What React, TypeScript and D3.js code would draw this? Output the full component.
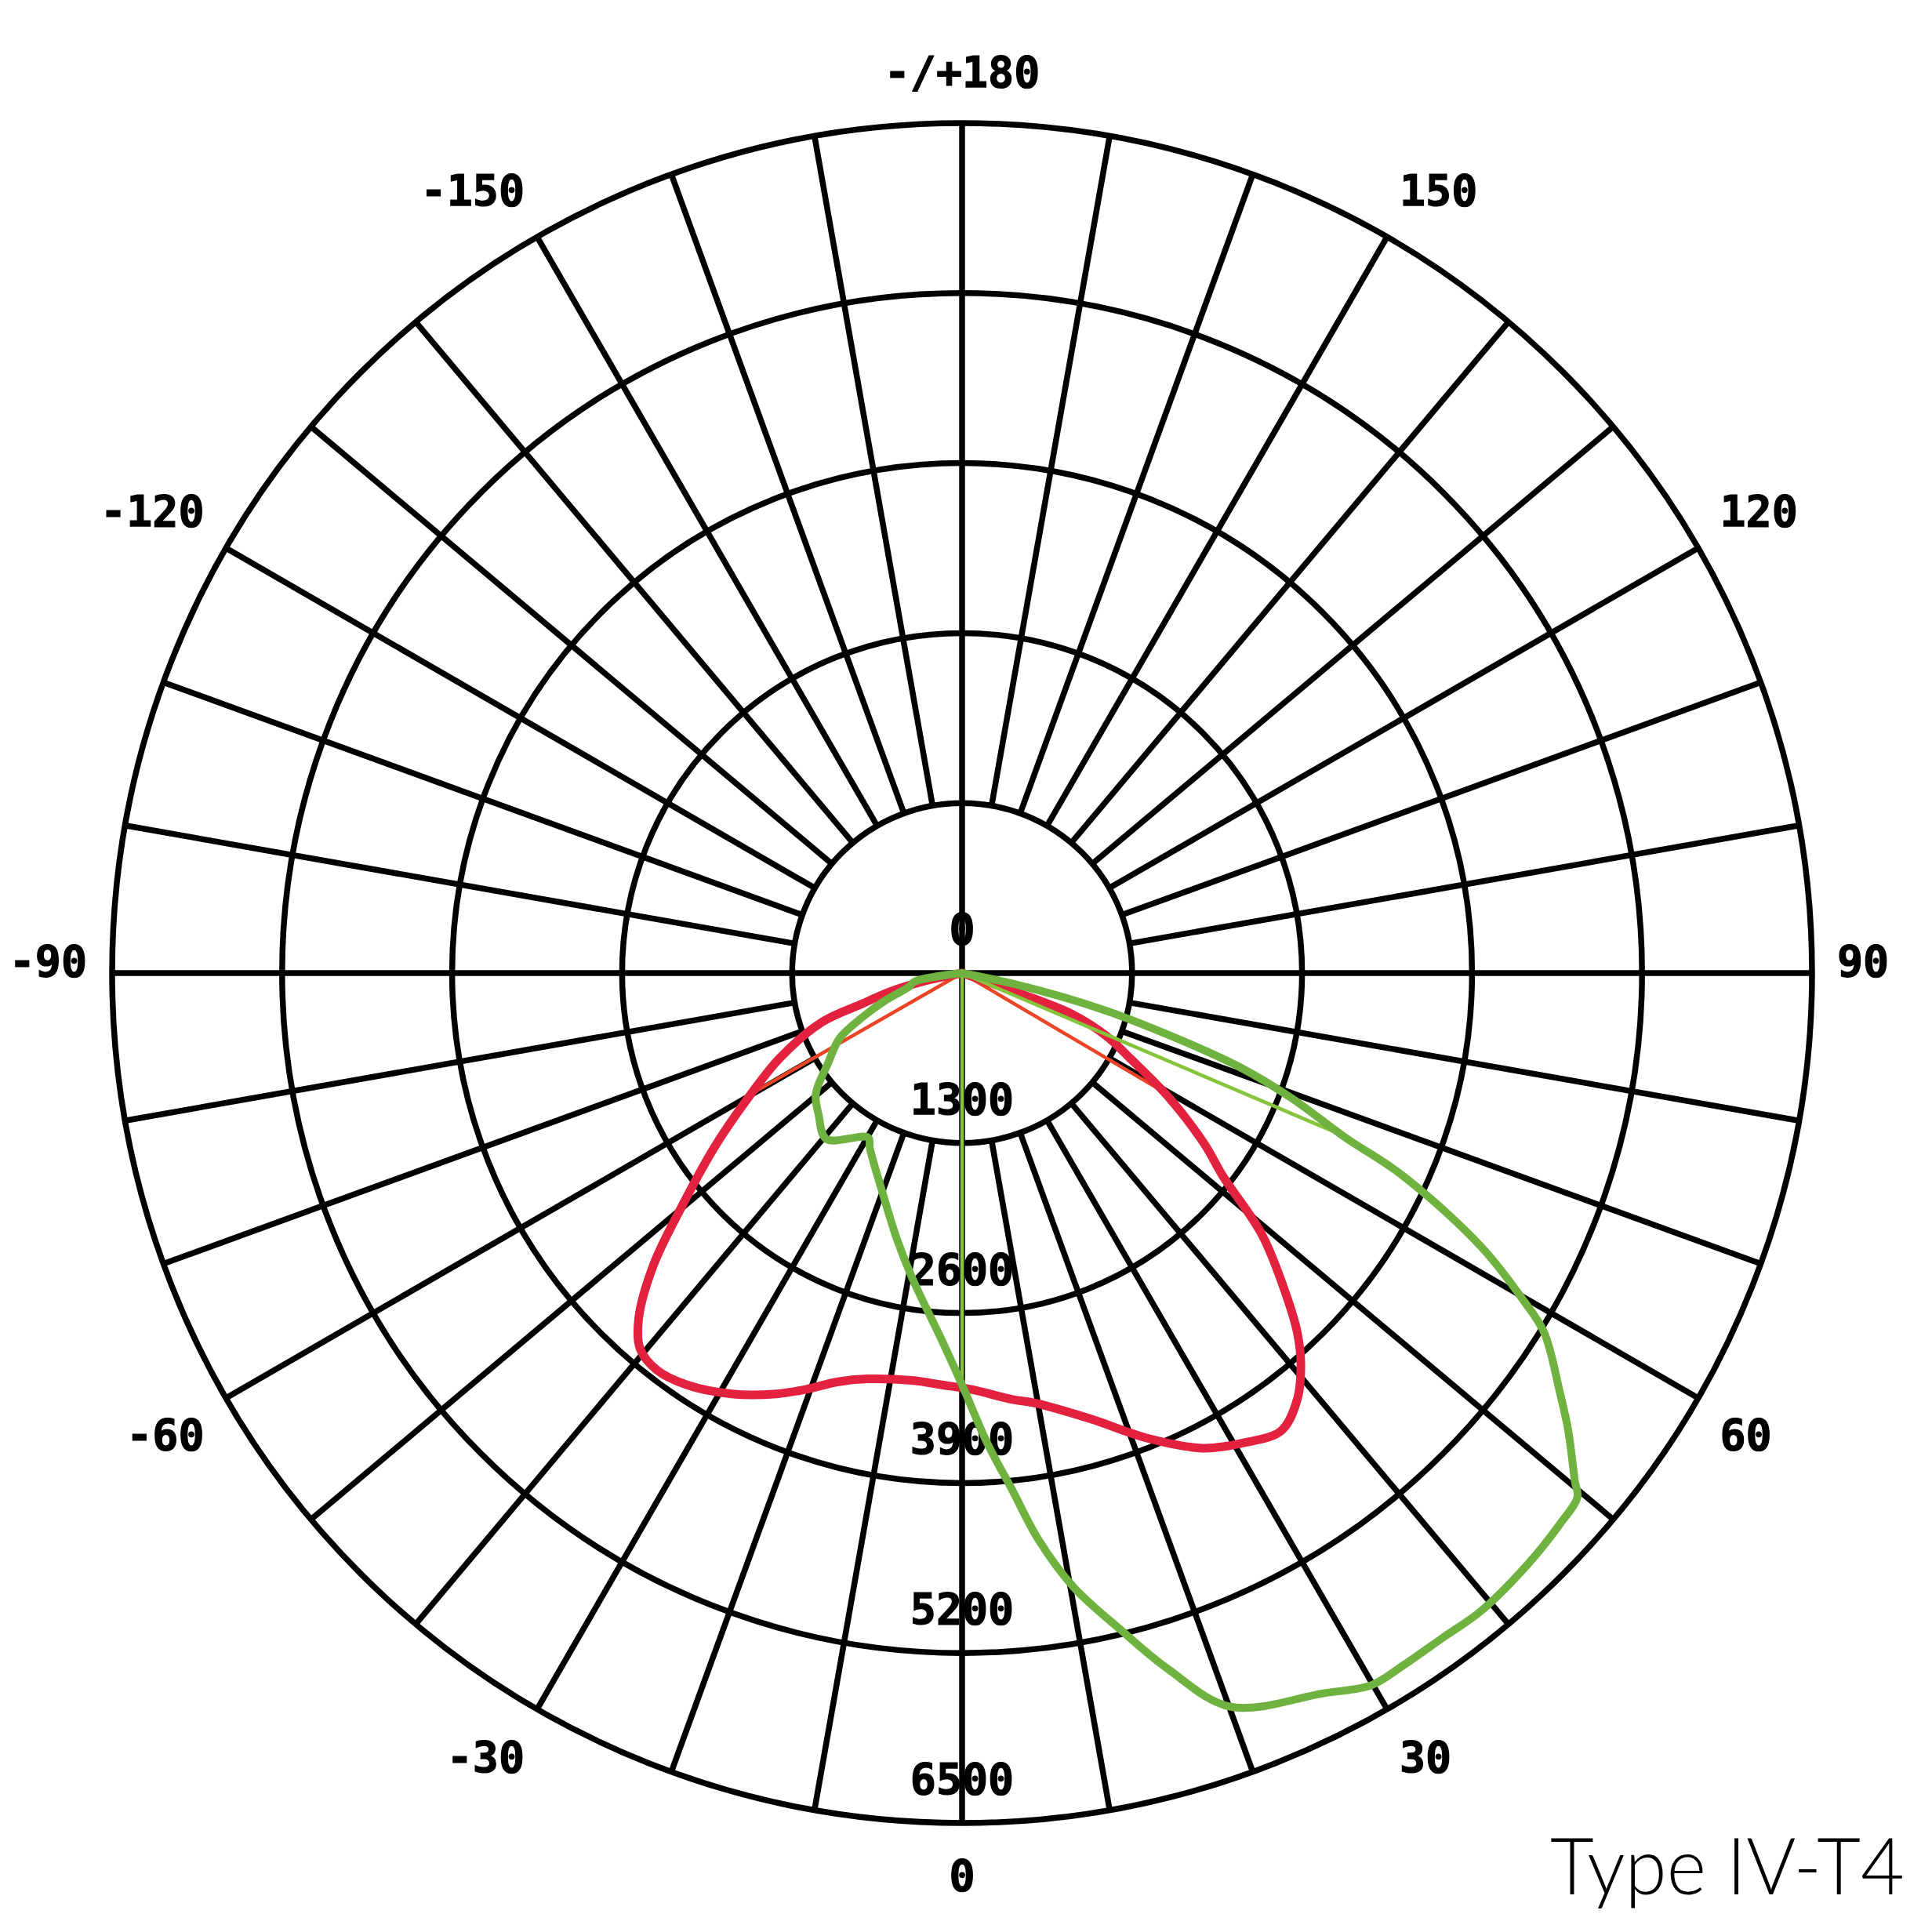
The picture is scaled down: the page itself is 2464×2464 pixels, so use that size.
import React from "react";
import * as d3 from "d3";

// ---- chart data ----
const ringValues = [1300, 2600, 3900, 5200, 6500];
const ringLabelValues = [0, 1300, 2600, 3900, 5200, 6500];
const ringLabelTexts = ["0", "1300", "2600", "3900", "5200", "6500"];
const spokeAngles = [-170, -160, -150, -140, -130, -120, -110, -100, -90, -80, -70, -60, -50, -40, -30, -20, -10, 0, 10, 20, 30, 40, 50, 60, 70, 80, 90, 100, 110, 120, 130, 140, 150, 160, 170, 180];
const angleLabelAngles = [-150, -120, -90, -60, -30, 0, 30, 60, 90, 120, 150, 180];
const angleLabelTexts = ["-150", "-120", "-90", "-60", "-30", "0", "30", "60", "90", "120", "150", "-/+180"];

// C0-C180 plane (red)
const redAngles = [-90, -78, -76, -74.7, -72.9, -70.7, -65, -59.5, -54.8, -50.1, -46.6, -43.1, -40.6, -37.6, -33.8, -28.7, -23.8, -20.5, -17, -13.2, -7, -2.8, 1.3, 6.6, 9.6, 16, 21.8, 26.9, 31.2, 34.9, 38.2, 40.9, 43, 45.3, 48.9, 52.1, 54.8, 58.9, 63, 66.5, 69.5, 70.6, 90];
const redValues = [0, 300, 520, 637, 797, 1136, 1538, 1912, 2323, 2802, 3247, 3620, 3784, 3829, 3788, 3669, 3517, 3398, 3270, 3188, 3139, 3153, 3185, 3281, 3335, 3545, 3833, 4074, 4195, 4267, 4146, 3957, 3759, 3481, 3044, 2527, 2268, 1853, 1450, 1200, 900, 462, 0];

// C90-C270 plane (green)
const greenAngles = [-90, -80, -75.5, -70, -66, -62, -55.9, -50.4, -45.3, -39.3, -29.7, -27.8, -20.3, -13.9, -9.4, -3.2, 0, 3, 5.5, 7.7, 10.3, 13.6, 16.5, 20.1, 26.7, 29.9, 32.5, 35.8, 39.2, 43.8, 47.3, 49.6, 50.3, 53, 55, 58.3, 59.7, 62.2, 65.3, 66.8, 69.2, 71.3, 73.3, 75.5, 77.9, 90];
const greenValues = [0, 367, 420, 640, 840, 1060, 1241, 1452, 1543, 1640, 1449, 1513, 1770, 2087, 2356, 2809, 3149, 3590, 3965, 4376, 4774, 5170, 5553, 5975, 6164, 6282, 6278, 6273, 6289, 6257, 6218, 6180, 6092, 5803, 5579, 5232, 4980, 4488, 3712, 3181, 2699, 2239, 1656, 1100, 448, 0];

// thin chords from the origin
const thinRedAngles = [59.5, -60.2];
const thinRedValues = [1779, 1818];
const thinGreenAngles = [0, 66.9];
const thinGreenValues = [3149, 3151];

const titleText = "Type IV-T4";

// ---- layout ----
const W = 2464;
const H = 2464;
const cx = 1227;
const cy = 1241;
const R = 1084;
const FONT = "'DejaVu Sans Mono', monospace";
const FS = 55;
const GRID_W = 7.5;

const rScale = d3.scaleLinear().domain([0, 6500]).range([0, R]);
// angle 0 at bottom, positive toward the right
const aScale = d3.scaleLinear().domain([-180, 180]).range([2 * Math.PI, 0]);

const pt = (deg: number, v: number): [number, number] => {
  const a = aScale(deg);
  const rr = rScale(v);
  return [rr * Math.sin(a), -rr * Math.cos(a)];
};

const radialLine = d3
  .lineRadial<[number, number]>()
  .angle((d) => aScale(d[0]))
  .radius((d) => rScale(d[1]))
  .curve(d3.curveCatmullRom.alpha(0.5));

export default function App() {
  const redPts = redAngles.map((a, i) => [a, redValues[i]] as [number, number]);
  const greenPts = greenAngles.map((a, i) => [a, greenValues[i]] as [number, number]);

  return (
    <svg
      width={W}
      height={H}
      viewBox={`0 0 ${W} ${H}`}
      style={{ position: "absolute", left: 0, top: 0, background: "#fff" }}
    >
      <rect x={0} y={0} width={W} height={H} fill="#fff" />
      <g transform={`translate(${cx},${cy})`}>
        {/* rings */}
        {ringValues.map((v) => (
          <circle key={v} r={rScale(v)} fill="none" stroke="#000" strokeWidth={GRID_W} />
        ))}
        {/* spokes */}
        {spokeAngles.map((deg) => {
          const full = deg % 90 === 0;
          const [x1, y1] = pt(deg, full ? 0 : ringValues[0]);
          const [x2, y2] = pt(deg, 6500);
          return (
            <line key={deg} x1={x1} y1={y1} x2={x2} y2={y2} stroke="#000" strokeWidth={GRID_W} />
          );
        })}
        {/* ring labels */}
        {ringLabelValues.map((v, i) => (
          <text
            key={"rl" + v}
            x={0}
            y={rScale(v) - 37}
            textAnchor="middle"
            fontFamily={FONT}
            fontWeight="bold"
            fontSize={FS}
            fill="#000"
            stroke="#000"
            strokeWidth={1.2}
          >
            {ringLabelTexts[i]}
          </text>
        ))}
        {/* angle labels */}
        {angleLabelAngles.map((deg, i) => {
          const t = angleLabelTexts[i];
          const th = (deg * Math.PI) / 180;
          const s = Math.sin(th);
          const c = Math.cos(th);
          const vertical = Math.abs(s) < 1e-6;
          const x = vertical ? 0 : (R + 32) * s;
          const yc = (R + 66) * c + 50 * c * Math.pow(s, 4) - 16 * Math.pow(s, 20);
          const anchor = vertical ? "middle" : s > 0 ? "start" : "end";
          return (
            <text
              key={"al" + deg}
              x={x}
              y={yc + 20}
              textAnchor={anchor}
              fontFamily={FONT}
              fontWeight="bold"
              fontSize={FS}
              fill="#000"
              stroke="#000"
              strokeWidth={1.2}
            >
              {t}
            </text>
          );
        })}

        {/* red curve */}
        {thinRedAngles.map((deg, i) => {
          const [x, y] = pt(deg, thinRedValues[i]);
          return (
            <line key={"tr" + i} x1={0} y1={0} x2={x} y2={y} stroke="#ec4526" strokeWidth={4.5} strokeLinecap="round" />
          );
        })}
        <path
          d={radialLine(redPts) || ""}
          fill="none"
          stroke="#e3223f"
          strokeWidth={11}
          strokeLinejoin="round"
          strokeLinecap="round"
        />
        {/* green curve */}
        {thinGreenAngles.map((deg, i) => {
          const [x, y] = pt(deg, thinGreenValues[i]);
          return (
            <line key={"tg" + i} x1={0} y1={0} x2={x} y2={y} stroke="#86c43c" strokeWidth={4.5} strokeLinecap="round" />
          );
        })}
        <path
          d={radialLine(greenPts) || ""}
          fill="none"
          stroke="#6fb23f"
          strokeWidth={10}
          strokeLinejoin="round"
          strokeLinecap="round"
        />
      </g>
      <text
        x={1977}
        y={2416}
        fontFamily="Lato, 'Open Sans', sans-serif"
        fontWeight={300}
        fontSize={101}
        textLength={452}
        lengthAdjust="spacingAndGlyphs"
        fill="#000"
      >
        {titleText}
      </text>
    </svg>
  );
}
